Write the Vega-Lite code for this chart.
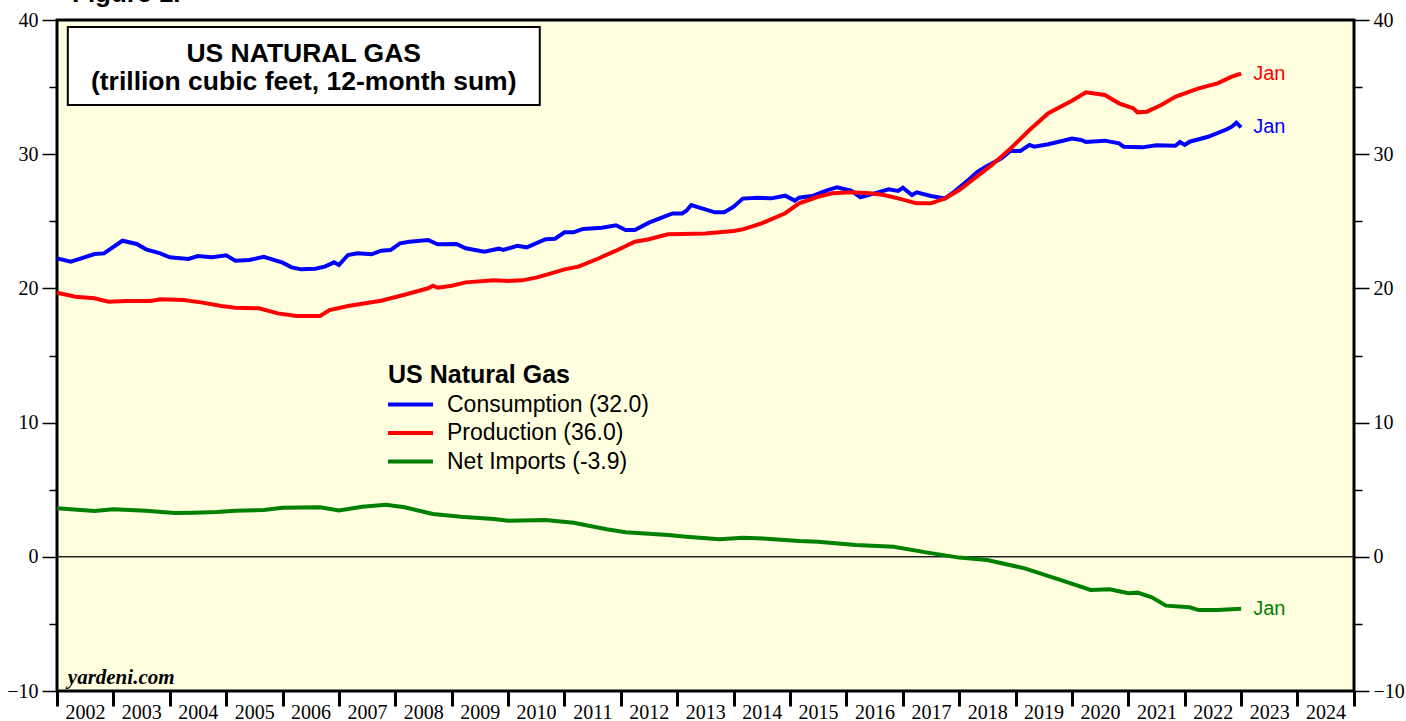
{
  "$schema": "https://vega.github.io/schema/vega-lite/v6.json",
  "width": 1297,
  "height": 671,
  "autosize": {"type": "none"},
  "padding": {"left": 57, "top": 20, "right": 52, "bottom": 30},
  "background": "white",
  "title": {"text": "Figure 1.", "anchor": "start", "frame": "group", "orient": "top", "offset": -18, "dx": 15, "baseline": "alphabetic", "font": "Liberation Sans", "fontSize": 26, "fontWeight": "bold", "color": "black"},
  "config": {"view": {"fill": "#ffffe0", "stroke": "black", "strokeWidth": 3}, "font": "Liberation Sans"},
  "data": {"values": [
    {"date": "2002-01-01", "series": "Net Imports", "value": 3.61},
    {"date": "2002-09-01", "series": "Net Imports", "value": 3.41},
    {"date": "2003-01-01", "series": "Net Imports", "value": 3.54},
    {"date": "2003-08-01", "series": "Net Imports", "value": 3.44},
    {"date": "2004-02-01", "series": "Net Imports", "value": 3.26},
    {"date": "2004-06-01", "series": "Net Imports", "value": 3.29},
    {"date": "2004-11-01", "series": "Net Imports", "value": 3.34},
    {"date": "2005-03-01", "series": "Net Imports", "value": 3.44},
    {"date": "2005-09-01", "series": "Net Imports", "value": 3.49},
    {"date": "2006-01-01", "series": "Net Imports", "value": 3.66},
    {"date": "2006-09-01", "series": "Net Imports", "value": 3.69},
    {"date": "2007-01-01", "series": "Net Imports", "value": 3.46},
    {"date": "2007-06-01", "series": "Net Imports", "value": 3.73},
    {"date": "2007-11-01", "series": "Net Imports", "value": 3.88},
    {"date": "2008-03-01", "series": "Net Imports", "value": 3.69},
    {"date": "2008-09-01", "series": "Net Imports", "value": 3.19},
    {"date": "2009-03-01", "series": "Net Imports", "value": 2.99},
    {"date": "2009-10-01", "series": "Net Imports", "value": 2.82},
    {"date": "2010-01-01", "series": "Net Imports", "value": 2.69},
    {"date": "2010-09-01", "series": "Net Imports", "value": 2.74},
    {"date": "2011-03-01", "series": "Net Imports", "value": 2.54},
    {"date": "2011-10-01", "series": "Net Imports", "value": 2.05},
    {"date": "2012-02-01", "series": "Net Imports", "value": 1.83},
    {"date": "2012-07-01", "series": "Net Imports", "value": 1.72},
    {"date": "2012-11-01", "series": "Net Imports", "value": 1.62},
    {"date": "2013-03-01", "series": "Net Imports", "value": 1.50},
    {"date": "2013-10-01", "series": "Net Imports", "value": 1.30},
    {"date": "2014-03-01", "series": "Net Imports", "value": 1.42},
    {"date": "2014-08-01", "series": "Net Imports", "value": 1.35},
    {"date": "2015-03-01", "series": "Net Imports", "value": 1.18},
    {"date": "2015-07-01", "series": "Net Imports", "value": 1.13},
    {"date": "2016-03-01", "series": "Net Imports", "value": 0.88},
    {"date": "2016-11-01", "series": "Net Imports", "value": 0.75},
    {"date": "2017-06-01", "series": "Net Imports", "value": 0.33},
    {"date": "2018-01-01", "series": "Net Imports", "value": -0.06},
    {"date": "2018-07-01", "series": "Net Imports", "value": -0.24},
    {"date": "2019-03-01", "series": "Net Imports", "value": -0.86},
    {"date": "2019-11-01", "series": "Net Imports", "value": -1.78},
    {"date": "2020-05-01", "series": "Net Imports", "value": -2.47},
    {"date": "2020-09-01", "series": "Net Imports", "value": -2.42},
    {"date": "2021-01-01", "series": "Net Imports", "value": -2.72},
    {"date": "2021-03-01", "series": "Net Imports", "value": -2.67},
    {"date": "2021-06-01", "series": "Net Imports", "value": -3.02},
    {"date": "2021-09-01", "series": "Net Imports", "value": -3.64},
    {"date": "2022-02-01", "series": "Net Imports", "value": -3.76},
    {"date": "2022-04-01", "series": "Net Imports", "value": -3.97},
    {"date": "2022-08-01", "series": "Net Imports", "value": -3.97},
    {"date": "2023-01-01", "series": "Net Imports", "value": -3.87},

    {"date": "2002-01-01", "series": "Consumption", "value": 22.24},
    {"date": "2002-04-01", "series": "Consumption", "value": 21.99},
    {"date": "2002-09-01", "series": "Consumption", "value": 22.56},
    {"date": "2002-11-01", "series": "Consumption", "value": 22.61},
    {"date": "2003-03-01", "series": "Consumption", "value": 23.55},
    {"date": "2003-06-01", "series": "Consumption", "value": 23.31},
    {"date": "2003-08-01", "series": "Consumption", "value": 22.91},
    {"date": "2003-11-01", "series": "Consumption", "value": 22.61},
    {"date": "2004-01-01", "series": "Consumption", "value": 22.32},
    {"date": "2004-05-01", "series": "Consumption", "value": 22.19},
    {"date": "2004-07-01", "series": "Consumption", "value": 22.41},
    {"date": "2004-10-01", "series": "Consumption", "value": 22.32},
    {"date": "2005-01-01", "series": "Consumption", "value": 22.46},
    {"date": "2005-03-01", "series": "Consumption", "value": 22.06},
    {"date": "2005-06-01", "series": "Consumption", "value": 22.12},
    {"date": "2005-09-01", "series": "Consumption", "value": 22.36},
    {"date": "2006-01-01", "series": "Consumption", "value": 21.92},
    {"date": "2006-03-01", "series": "Consumption", "value": 21.57},
    {"date": "2006-05-01", "series": "Consumption", "value": 21.42},
    {"date": "2006-08-01", "series": "Consumption", "value": 21.47},
    {"date": "2006-10-01", "series": "Consumption", "value": 21.62},
    {"date": "2006-12-01", "series": "Consumption", "value": 21.94},
    {"date": "2007-01-01", "series": "Consumption", "value": 21.74},
    {"date": "2007-03-01", "series": "Consumption", "value": 22.49},
    {"date": "2007-05-01", "series": "Consumption", "value": 22.61},
    {"date": "2007-08-01", "series": "Consumption", "value": 22.54},
    {"date": "2007-10-01", "series": "Consumption", "value": 22.81},
    {"date": "2007-12-01", "series": "Consumption", "value": 22.86},
    {"date": "2008-02-01", "series": "Consumption", "value": 23.36},
    {"date": "2008-04-01", "series": "Consumption", "value": 23.48},
    {"date": "2008-08-01", "series": "Consumption", "value": 23.61},
    {"date": "2008-10-01", "series": "Consumption", "value": 23.29},
    {"date": "2009-02-01", "series": "Consumption", "value": 23.31},
    {"date": "2009-04-01", "series": "Consumption", "value": 22.99},
    {"date": "2009-08-01", "series": "Consumption", "value": 22.74},
    {"date": "2009-11-01", "series": "Consumption", "value": 22.96},
    {"date": "2009-12-01", "series": "Consumption", "value": 22.86},
    {"date": "2010-03-01", "series": "Consumption", "value": 23.18},
    {"date": "2010-05-01", "series": "Consumption", "value": 23.06},
    {"date": "2010-09-01", "series": "Consumption", "value": 23.66},
    {"date": "2010-11-01", "series": "Consumption", "value": 23.70},
    {"date": "2011-01-01", "series": "Consumption", "value": 24.18},
    {"date": "2011-03-01", "series": "Consumption", "value": 24.18},
    {"date": "2011-05-01", "series": "Consumption", "value": 24.43},
    {"date": "2011-09-01", "series": "Consumption", "value": 24.52},
    {"date": "2011-12-01", "series": "Consumption", "value": 24.70},
    {"date": "2012-02-01", "series": "Consumption", "value": 24.35},
    {"date": "2012-04-01", "series": "Consumption", "value": 24.35},
    {"date": "2012-07-01", "series": "Consumption", "value": 24.90},
    {"date": "2012-12-01", "series": "Consumption", "value": 25.59},
    {"date": "2013-02-01", "series": "Consumption", "value": 25.59},
    {"date": "2013-03-01", "series": "Consumption", "value": 25.79},
    {"date": "2013-04-01", "series": "Consumption", "value": 26.21},
    {"date": "2013-07-01", "series": "Consumption", "value": 25.89},
    {"date": "2013-09-01", "series": "Consumption", "value": 25.67},
    {"date": "2013-11-01", "series": "Consumption", "value": 25.67},
    {"date": "2014-01-01", "series": "Consumption", "value": 26.09},
    {"date": "2014-03-01", "series": "Consumption", "value": 26.69},
    {"date": "2014-06-01", "series": "Consumption", "value": 26.76},
    {"date": "2014-09-01", "series": "Consumption", "value": 26.71},
    {"date": "2014-12-01", "series": "Consumption", "value": 26.91},
    {"date": "2015-02-01", "series": "Consumption", "value": 26.54},
    {"date": "2015-03-01", "series": "Consumption", "value": 26.76},
    {"date": "2015-06-01", "series": "Consumption", "value": 26.91},
    {"date": "2015-09-01", "series": "Consumption", "value": 27.33},
    {"date": "2015-11-01", "series": "Consumption", "value": 27.53},
    {"date": "2016-02-01", "series": "Consumption", "value": 27.28},
    {"date": "2016-04-01", "series": "Consumption", "value": 26.79},
    {"date": "2016-07-01", "series": "Consumption", "value": 27.08},
    {"date": "2016-10-01", "series": "Consumption", "value": 27.38},
    {"date": "2016-12-01", "series": "Consumption", "value": 27.26},
    {"date": "2017-01-01", "series": "Consumption", "value": 27.50},
    {"date": "2017-03-01", "series": "Consumption", "value": 26.96},
    {"date": "2017-04-01", "series": "Consumption", "value": 27.16},
    {"date": "2017-07-01", "series": "Consumption", "value": 26.89},
    {"date": "2017-10-01", "series": "Consumption", "value": 26.71},
    {"date": "2017-12-01", "series": "Consumption", "value": 27.21},
    {"date": "2018-03-01", "series": "Consumption", "value": 28.08},
    {"date": "2018-05-01", "series": "Consumption", "value": 28.70},
    {"date": "2018-07-01", "series": "Consumption", "value": 29.12},
    {"date": "2018-10-01", "series": "Consumption", "value": 29.69},
    {"date": "2018-12-01", "series": "Consumption", "value": 30.26},
    {"date": "2019-02-01", "series": "Consumption", "value": 30.24},
    {"date": "2019-04-01", "series": "Consumption", "value": 30.69},
    {"date": "2019-05-01", "series": "Consumption", "value": 30.56},
    {"date": "2019-08-01", "series": "Consumption", "value": 30.74},
    {"date": "2019-10-01", "series": "Consumption", "value": 30.91},
    {"date": "2020-01-01", "series": "Consumption", "value": 31.16},
    {"date": "2020-03-01", "series": "Consumption", "value": 31.06},
    {"date": "2020-04-01", "series": "Consumption", "value": 30.91},
    {"date": "2020-08-01", "series": "Consumption", "value": 31.01},
    {"date": "2020-11-01", "series": "Consumption", "value": 30.81},
    {"date": "2020-12-01", "series": "Consumption", "value": 30.56},
    {"date": "2021-04-01", "series": "Consumption", "value": 30.51},
    {"date": "2021-07-01", "series": "Consumption", "value": 30.66},
    {"date": "2021-11-01", "series": "Consumption", "value": 30.63},
    {"date": "2021-12-01", "series": "Consumption", "value": 30.91},
    {"date": "2022-01-01", "series": "Consumption", "value": 30.69},
    {"date": "2022-02-01", "series": "Consumption", "value": 30.93},
    {"date": "2022-06-01", "series": "Consumption", "value": 31.30},
    {"date": "2022-10-01", "series": "Consumption", "value": 31.86},
    {"date": "2022-11-01", "series": "Consumption", "value": 32.05},
    {"date": "2022-12-01", "series": "Consumption", "value": 32.35},
    {"date": "2023-01-01", "series": "Consumption", "value": 32.0},

    {"date": "2002-01-01", "series": "Production", "value": 19.68},
    {"date": "2002-05-01", "series": "Production", "value": 19.38},
    {"date": "2002-09-01", "series": "Production", "value": 19.26},
    {"date": "2002-12-01", "series": "Production", "value": 19.01},
    {"date": "2003-04-01", "series": "Production", "value": 19.06},
    {"date": "2003-09-01", "series": "Production", "value": 19.06},
    {"date": "2003-11-01", "series": "Production", "value": 19.19},
    {"date": "2004-04-01", "series": "Production", "value": 19.14},
    {"date": "2004-08-01", "series": "Production", "value": 18.94},
    {"date": "2004-12-01", "series": "Production", "value": 18.69},
    {"date": "2005-03-01", "series": "Production", "value": 18.56},
    {"date": "2005-08-01", "series": "Production", "value": 18.52},
    {"date": "2005-12-01", "series": "Production", "value": 18.14},
    {"date": "2006-04-01", "series": "Production", "value": 17.94},
    {"date": "2006-09-01", "series": "Production", "value": 17.94},
    {"date": "2006-11-01", "series": "Production", "value": 18.39},
    {"date": "2007-03-01", "series": "Production", "value": 18.69},
    {"date": "2007-10-01", "series": "Production", "value": 19.08},
    {"date": "2008-03-01", "series": "Production", "value": 19.53},
    {"date": "2008-08-01", "series": "Production", "value": 20.01},
    {"date": "2008-09-01", "series": "Production", "value": 20.20},
    {"date": "2008-10-01", "series": "Production", "value": 20.05},
    {"date": "2009-01-01", "series": "Production", "value": 20.20},
    {"date": "2009-04-01", "series": "Production", "value": 20.45},
    {"date": "2009-10-01", "series": "Production", "value": 20.6},
    {"date": "2010-01-01", "series": "Production", "value": 20.55},
    {"date": "2010-04-01", "series": "Production", "value": 20.6},
    {"date": "2010-07-01", "series": "Production", "value": 20.8},
    {"date": "2010-10-01", "series": "Production", "value": 21.1},
    {"date": "2011-01-01", "series": "Production", "value": 21.42},
    {"date": "2011-04-01", "series": "Production", "value": 21.62},
    {"date": "2011-08-01", "series": "Production", "value": 22.19},
    {"date": "2011-12-01", "series": "Production", "value": 22.81},
    {"date": "2012-04-01", "series": "Production", "value": 23.48},
    {"date": "2012-07-01", "series": "Production", "value": 23.66},
    {"date": "2012-11-01", "series": "Production", "value": 24.03},
    {"date": "2013-02-01", "series": "Production", "value": 24.05},
    {"date": "2013-07-01", "series": "Production", "value": 24.10},
    {"date": "2014-01-01", "series": "Production", "value": 24.28},
    {"date": "2014-03-01", "series": "Production", "value": 24.40},
    {"date": "2014-07-01", "series": "Production", "value": 24.85},
    {"date": "2014-12-01", "series": "Production", "value": 25.60},
    {"date": "2015-03-01", "series": "Production", "value": 26.34},
    {"date": "2015-07-01", "series": "Production", "value": 26.83},
    {"date": "2015-10-01", "series": "Production", "value": 27.09},
    {"date": "2016-02-01", "series": "Production", "value": 27.16},
    {"date": "2016-06-01", "series": "Production", "value": 27.09},
    {"date": "2016-09-01", "series": "Production", "value": 26.96},
    {"date": "2016-12-01", "series": "Production", "value": 26.71},
    {"date": "2017-04-01", "series": "Production", "value": 26.34},
    {"date": "2017-07-01", "series": "Production", "value": 26.34},
    {"date": "2017-10-01", "series": "Production", "value": 26.71},
    {"date": "2018-01-01", "series": "Production", "value": 27.33},
    {"date": "2018-04-01", "series": "Production", "value": 28.13},
    {"date": "2018-08-01", "series": "Production", "value": 29.20},
    {"date": "2018-12-01", "series": "Production", "value": 30.44},
    {"date": "2019-04-01", "series": "Production", "value": 31.80},
    {"date": "2019-08-01", "series": "Production", "value": 33.05},
    {"date": "2020-01-01", "series": "Production", "value": 33.99},
    {"date": "2020-04-01", "series": "Production", "value": 34.61},
    {"date": "2020-08-01", "series": "Production", "value": 34.41},
    {"date": "2020-11-01", "series": "Production", "value": 33.79},
    {"date": "2021-02-01", "series": "Production", "value": 33.42},
    {"date": "2021-03-01", "series": "Production", "value": 33.12},
    {"date": "2021-05-01", "series": "Production", "value": 33.17},
    {"date": "2021-08-01", "series": "Production", "value": 33.67},
    {"date": "2021-11-01", "series": "Production", "value": 34.28},
    {"date": "2022-02-01", "series": "Production", "value": 34.66},
    {"date": "2022-04-01", "series": "Production", "value": 34.91},
    {"date": "2022-08-01", "series": "Production", "value": 35.28},
    {"date": "2022-11-01", "series": "Production", "value": 35.78},
    {"date": "2023-01-01", "series": "Production", "value": 36.0}
  ]},
  "layer": [
    {
      "data": {"values": [{}]},
      "mark": {"type": "rule", "color": "#222222", "strokeWidth": 1.5},
      "encoding": {
        "y": {"datum": 0, "type": "quantitative", "scale": {"domain": [-10, 40]},
          "axis": {"orient": "right", "title": null, "values": [-10, -5, 0, 5, 10, 15, 20, 25, 30, 35, 40],
            "labelExpr": "datum.value % 10 === 0 ? datum.label : ''",
            "tickSize": {"condition": {"test": "datum.value % 10 === 0", "value": 15}, "value": 8},
            "tickWidth": 1.5, "tickColor": "black", "labelPadding": 4,
            "labelFont": "Liberation Serif", "labelFontSize": 20, "labelColor": "black",
            "domain": false, "grid": false, "labelFlush": false, "labelOverlap": false, "labelBound": false}}
      }
    },
    {
      "data": {"values": [{}]},
      "mark": {"type": "rect", "fill": "white", "stroke": "black", "strokeWidth": 2},
      "encoding": {
        "x": {"datum": {"year": 2002, "month": 3, "date": 12, "utc": true}, "type": "temporal"},
        "x2": {"datum": {"year": 2010, "month": 7, "date": 25, "utc": true}},
        "y": {"datum": 39.48, "type": "quantitative", "axis": null},
        "y2": {"datum": 33.67}
      }
    },
    {
      "data": {"values": [{}]},
      "mark": {"type": "text", "font": "Liberation Sans", "fontWeight": "bold", "fontSize": 26.5, "align": "center", "baseline": "middle", "lineHeight": 28, "color": "black",
        "text": ["US NATURAL GAS", "(trillion cubic feet, 12-month sum)"]},
      "encoding": {
        "x": {"datum": {"year": 2006, "month": 5, "date": 18, "utc": true}, "type": "temporal"},
        "y": {"datum": 37.46, "type": "quantitative", "axis": null}
      }
    },
    {
      "data": {"values": [{}]},
      "mark": {"type": "text", "font": "Liberation Serif", "fontWeight": "bold", "fontStyle": "italic", "fontSize": 21, "align": "left", "baseline": "alphabetic", "color": "black", "text": "yardeni.com"},
      "encoding": {
        "x": {"datum": {"year": 2002, "month": 3, "date": 12, "utc": true}, "type": "temporal"},
        "y": {"datum": -9.48, "type": "quantitative", "axis": null}
      }
    },
    {
      "mark": {"type": "line", "strokeWidth": 4},
      "encoding": {
        "x": {"field": "date", "type": "temporal",
          "scale": {"type": "utc", "domain": [{"year": 2002, "month": 1, "date": 1, "utc": true}, {"year": 2025, "month": 1, "date": 1, "utc": true}]},
          "axis": {"title": null,
            "values": [{"year": 2002, "utc": true}, {"year": 2003, "utc": true}, {"year": 2004, "utc": true}, {"year": 2005, "utc": true}, {"year": 2006, "utc": true}, {"year": 2007, "utc": true}, {"year": 2008, "utc": true}, {"year": 2009, "utc": true}, {"year": 2010, "utc": true}, {"year": 2011, "utc": true}, {"year": 2012, "utc": true}, {"year": 2013, "utc": true}, {"year": 2014, "utc": true}, {"year": 2015, "utc": true}, {"year": 2016, "utc": true}, {"year": 2017, "utc": true}, {"year": 2018, "utc": true}, {"year": 2019, "utc": true}, {"year": 2020, "utc": true}, {"year": 2021, "utc": true}, {"year": 2022, "utc": true}, {"year": 2023, "utc": true}, {"year": 2024, "utc": true}, {"year": 2025, "utc": true}],
            "format": "%Y",
            "labelExpr": "utcyear(datum.value) < 2025 ? utcFormat(datum.value, '%Y') : ''",
            "labelOffset": 28, "labelAlign": "center", "labelBaseline": "top", "labelPadding": -4,
            "labelFont": "Liberation Serif", "labelFontSize": 20, "labelColor": "black",
            "labelFlush": false, "labelOverlap": false, "labelBound": false,
            "tickSize": 15, "tickWidth": 3, "tickColor": "black", "domain": false, "grid": false}},
        "y": {"field": "value", "type": "quantitative", "scale": {"domain": [-10, 40]},
          "axis": {"orient": "left", "title": null, "values": [-10, -5, 0, 5, 10, 15, 20, 25, 30, 35, 40],
            "labelExpr": "datum.value % 10 === 0 ? datum.label : ''",
            "tickSize": {"condition": {"test": "datum.value % 10 === 0", "value": 15}, "value": 8},
            "tickWidth": 1.5, "tickColor": "black", "labelPadding": 4,
            "labelFont": "Liberation Serif", "labelFontSize": 20, "labelColor": "black",
            "domain": false, "grid": false, "labelFlush": false, "labelOverlap": false, "labelBound": false}},
        "color": {"field": "series", "type": "nominal",
          "scale": {"domain": ["Consumption", "Production", "Net Imports"], "range": ["#0000ff", "#ff0000", "#008000"]},
          "legend": {"orient": "none", "legendX": 331, "legendY": 343, "padding": 0,
            "title": "US Natural Gas", "titleFont": "Liberation Sans", "titleFontSize": 25, "titleFontWeight": "bold", "titleColor": "black", "titlePadding": 2, "titleLimit": 500,
            "labelFont": "Liberation Sans", "labelFontSize": 23, "labelColor": "black", "labelOffset": 22, "labelLimit": 500,
            "labelExpr": "datum.label === 'Consumption' ? 'Consumption (32.0)' : datum.label === 'Production' ? 'Production (36.0)' : 'Net Imports (-3.9)'",
            "symbolType": "M-1.8,0H1.8", "symbolSize": 625, "symbolStrokeWidth": 4, "symbolOffset": 8, "rowPadding": 1.5}}
      }
    },
    {
      "transform": [{"filter": "utcyear(toDate(datum.date)) === 2023"}],
      "mark": {"type": "text", "align": "left", "baseline": "middle", "dx": 12, "fontSize": 20, "font": "Liberation Sans", "text": "Jan"},
      "encoding": {
        "x": {"field": "date", "type": "temporal"},
        "y": {"field": "value", "type": "quantitative", "axis": null},
        "color": {"field": "series", "type": "nominal", "legend": null}
      }
    }
  ],
  "resolve": {"axis": {"y": "independent"}}
}
